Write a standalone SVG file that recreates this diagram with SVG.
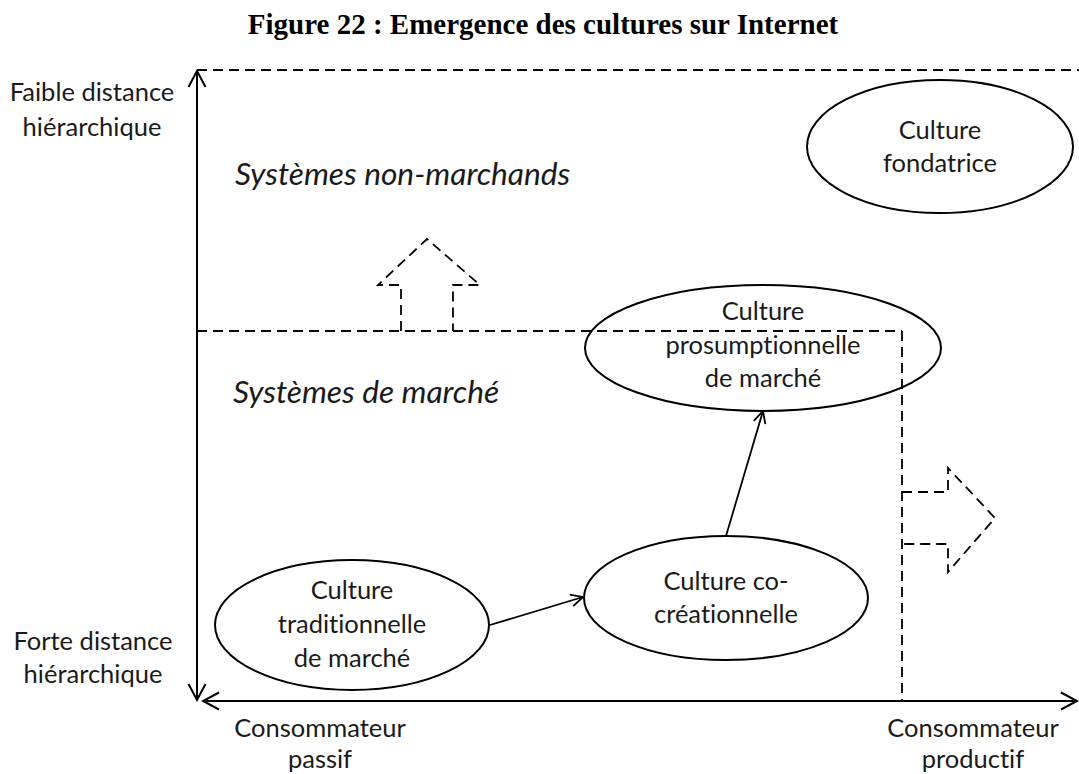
<svg xmlns="http://www.w3.org/2000/svg" width="1079" height="774" viewBox="0 0 1079 774">
<style>
.t{font-family:Lato,"Open Sans",sans-serif;font-size:25.5px;fill:#1a1a1a;text-anchor:middle;font-variant-ligatures:none}
.i{font-family:Lato,"Open Sans",sans-serif;font-size:31.7px;font-style:italic;fill:#1a1a1a;font-variant-ligatures:none}
.title{font-family:"Liberation Serif","Times New Roman",serif;font-size:29px;font-weight:bold;fill:#000;text-anchor:middle}
.node{fill:#fff;stroke:#000;stroke-width:2}
.axis{fill:none;stroke:#000;stroke-width:2}
.dash{fill:none;stroke:#000;stroke-width:1.8;stroke-dasharray:10 6}
.conn{fill:none;stroke:#000;stroke-width:1.8}
</style>
<defs>
<marker id="open" viewBox="0 0 14 14" refX="13" refY="7" markerWidth="14" markerHeight="14" markerUnits="userSpaceOnUse" orient="auto-start-reverse">
<path d="M1,1 L13,7 L1,13" fill="none" stroke="#000" stroke-width="1.8"/>
</marker>
<marker id="axhead" viewBox="0 0 20 20" refX="18" refY="10" markerWidth="20" markerHeight="20" markerUnits="userSpaceOnUse" orient="auto-start-reverse">
<path d="M2,1.5 L18,10 L2,18.5" fill="none" stroke="#000" stroke-width="2"/>
</marker>
</defs>
<rect width="1079" height="774" fill="#fff"/>
<text class="title" x="543" y="34">Figure 22 : Emergence des cultures sur Internet</text>

<g id="labels">
<text class="t" x="92" y="101">Faible distance</text>
<text class="t" x="92" y="136">hiérarchique</text>
<text class="t" x="93" y="650">Forte distance</text>
<text class="t" x="93" y="683">hiérarchique</text>
<text class="t" x="320" y="737">Consommateur</text>
<text class="t" x="320" y="768">passif</text>
<text class="t" x="973" y="737">Consommateur</text>
<text class="t" x="973" y="768">productif</text>
<text class="i" x="235" y="185">Systèmes non-marchands</text>
<text class="i" x="233" y="403">Systèmes de marché</text>
</g>

<g id="node-fondatrice">
<ellipse class="node" cx="940" cy="146.5" rx="133" ry="66.5"/>
<text class="t" x="940" y="139">Culture</text>
<text class="t" x="940" y="172">fondatrice</text>
</g>
<g id="node-prosumptionnelle">
<ellipse class="node" cx="763" cy="348" rx="178" ry="63"/>
<text class="t" x="763" y="320">Culture</text>
<text class="t" x="763" y="354">prosumptionnelle</text>
<text class="t" x="763" y="387">de marché</text>
</g>
<g id="node-cocreationnelle">
<ellipse class="node" cx="726" cy="598" rx="142" ry="62"/>
<text class="t" x="726" y="590">Culture co-</text>
<text class="t" x="726" y="623">créationnelle</text>
</g>
<g id="node-traditionnelle">
<ellipse class="node" cx="352" cy="625" rx="137" ry="65"/>
<text class="t" x="352" y="599">Culture</text>
<text class="t" x="352" y="633">traditionnelle</text>
<text class="t" x="352" y="667">de marché</text>
</g>

<g id="connectors">
<line class="axis" x1="197" y1="71" x2="197" y2="700" marker-start="url(#axhead)" marker-end="url(#axhead)"/>
<line class="axis" x1="203" y1="701" x2="1077" y2="701" marker-start="url(#axhead)" marker-end="url(#axhead)"/>
<line class="dash" x1="197" y1="70" x2="1079" y2="70"/>
<line class="dash" x1="197" y1="331" x2="902" y2="331"/>
<line class="dash" x1="902" y1="331" x2="902" y2="701"/>
<polyline class="dash" points="401,331 401,285 378,285 427,239 480,285 453,285 453,331"/>
<polyline class="dash" points="902,492 948,492 948,468 995,518 948,572 948,544 902,544"/>
<line class="conn" x1="490" y1="625" x2="583" y2="597" marker-end="url(#open)"/>
<line class="conn" x1="726" y1="536" x2="763" y2="411" marker-end="url(#open)"/>
</g>
</svg>
